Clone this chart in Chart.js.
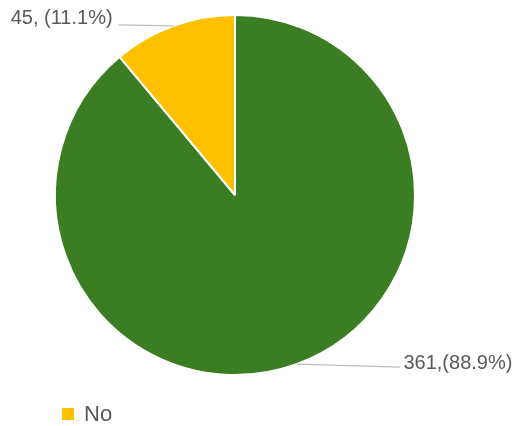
<!DOCTYPE html>
<html>
<head>
<meta charset="utf-8">
<script src="https://cdn.jsdelivr.net/npm/chart.js@4.4.0/dist/chart.umd.min.js"></script>
<style>
  html, body { margin: 0; padding: 0; background: #fff; }
  #wrap { width: 513px; height: 426px; }
</style>
</head>
<body>
<div id="wrap"><canvas id="pie_chart"></canvas></div>
<script>
const labels = ['Yes', 'No'];
const counts = [361, 45];
const percents = ['88.9%', '11.1%'];
const dataLabels = ['361,(88.9%)', '45, (11.1%)'];
const colors = ['#3A7D22', '#FFC000'];

// leader line: horizontal run from slice midpoint to label
const leaderRun = [104, -55];

const calloutPlugin = {
  id: 'callouts',
  afterDatasetsDraw(chart) {
    const ctx = chart.ctx;
    const meta = chart.getDatasetMeta(0);
    ctx.save();
    meta.data.forEach((arc, i) => {
      const { x, y, startAngle, endAngle, outerRadius } = arc.getProps(['x', 'y', 'startAngle', 'endAngle', 'outerRadius'], true);
      const mid = (startAngle + endAngle) / 2;
      const px = x + Math.cos(mid) * outerRadius;
      const py = y + Math.sin(mid) * outerRadius;
      const ex = px + leaderRun[i];
      const ey = py + (leaderRun[i] > 0 ? 3 : -1);

      ctx.strokeStyle = '#BFBFBF';
      ctx.lineWidth = 1.2;
      ctx.beginPath();
      ctx.moveTo(px, py);
      ctx.lineTo(ex, ey);
      ctx.stroke();

      ctx.fillStyle = '#595959';
      ctx.font = '20px "Liberation Sans", Arial, sans-serif';
      ctx.textBaseline = 'middle';
      if (leaderRun[i] > 0) {
        ctx.textAlign = 'left';
        ctx.fillText(dataLabels[i], ex + 3, ey - 4);
      } else {
        ctx.textAlign = 'right';
        ctx.fillText(dataLabels[i], ex - 6, ey - 6);
      }
    });

    // legend (only "No" visible)
    ctx.fillStyle = colors[1];
    ctx.fillRect(62, 408, 12, 12);
    ctx.fillStyle = '#595959';
    ctx.font = '22px "Liberation Sans", Arial, sans-serif';
    ctx.textAlign = 'left';
    ctx.textBaseline = 'middle';
    ctx.fillText(labels[1], 84, 415);
    ctx.restore();
  }
};

new Chart(document.getElementById('pie_chart'), {
  type: 'pie',
  data: {
    labels: labels,
    datasets: [{
      data: counts,
      backgroundColor: colors,
      borderColor: '#ffffff',
      borderWidth: 2
    }]
  },
  options: {
    responsive: true,
    maintainAspectRatio: false,
    animation: false,
    layout: { padding: { top: 14, bottom: 50, left: 54, right: 97 } },
    plugins: {
      legend: { display: false },
      tooltip: { enabled: false }
    }
  },
  plugins: [calloutPlugin]
});
</script>
</body>
</html>
